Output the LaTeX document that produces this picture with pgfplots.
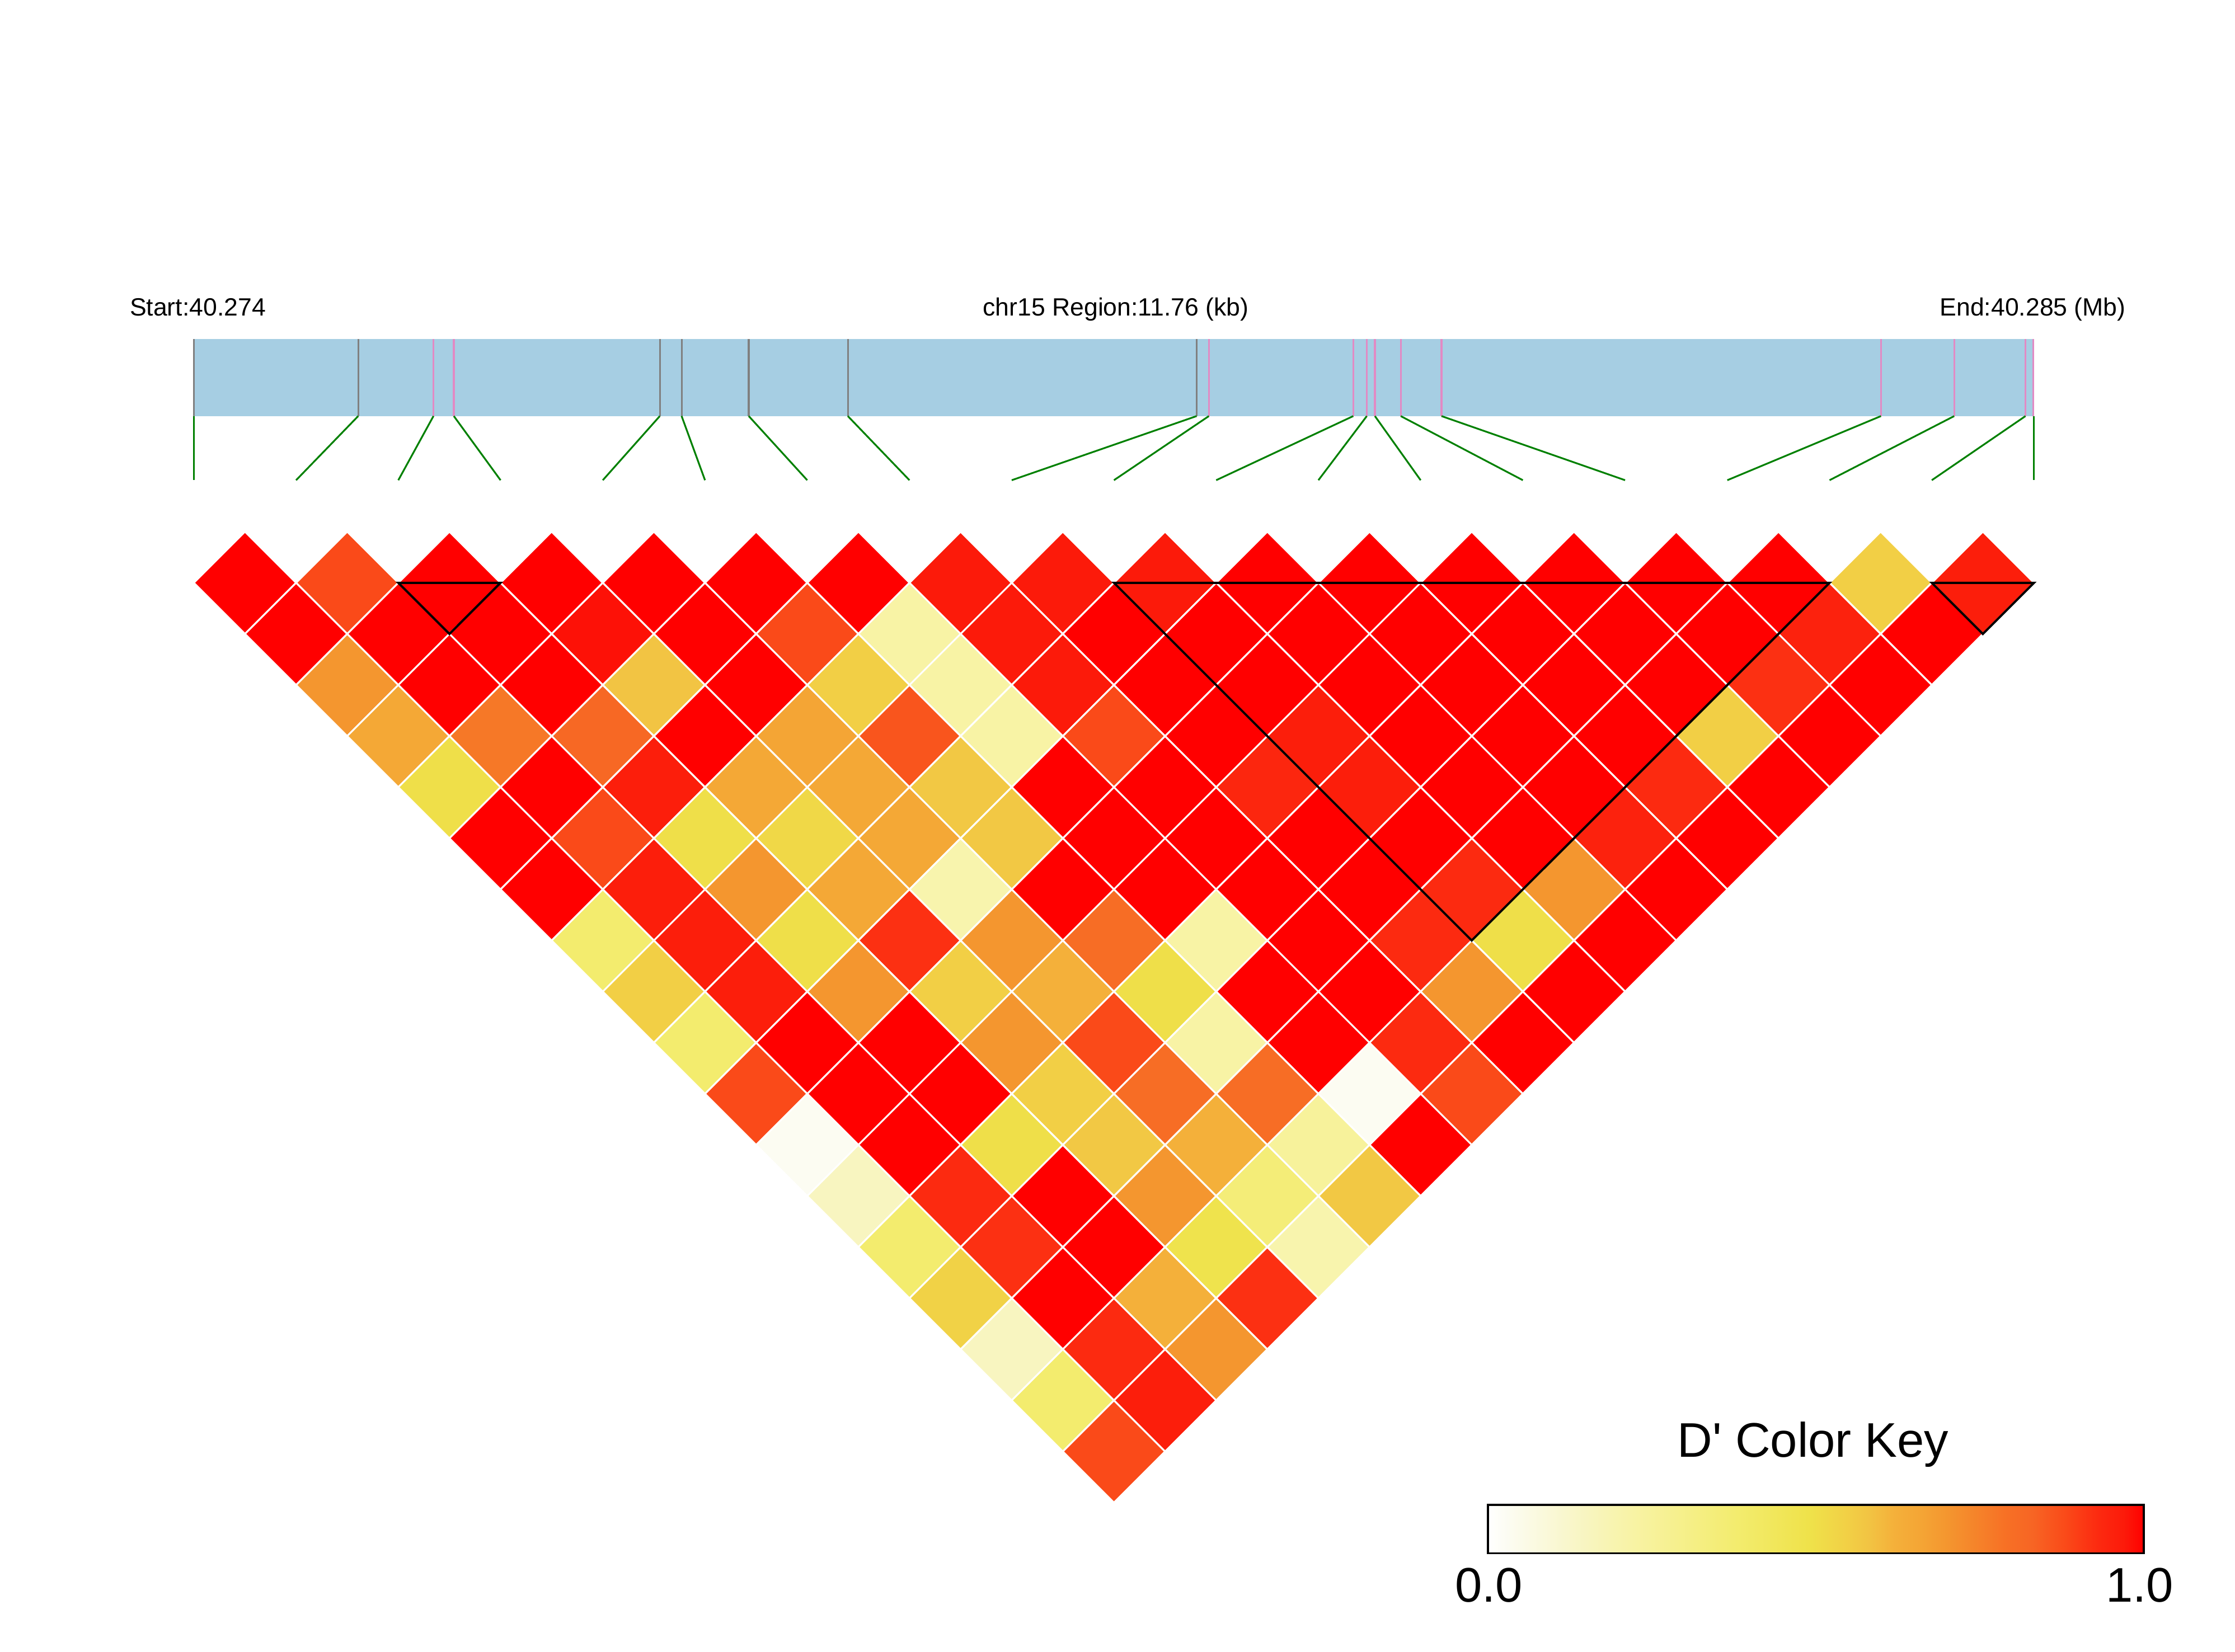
\documentclass[border=0pt]{standalone}
\usepackage{pgfplots}
\pgfplotsset{compat=1.18}
\usepackage{pgfplotstable}
\usepackage{fontspec}
\setmainfont{Liberation Sans}
\definecolor{barblue}{RGB}{166,206,227}
\definecolor{snpgray}{RGB}{128,128,128}
\definecolor{snppink}{RGB}{226,138,196}
\definecolor{lkgreen}{RGB}{0,128,0}

% D' values: pair (i,j) of SNPs 0..18
\pgfplotstableread{
i j v
0 1 1
1 2 0.88
2 3 1
3 4 1
4 5 1
5 6 1
6 7 1
7 8 0.97
8 9 0.97
9 10 0.97
10 11 1
11 12 1
12 13 1
13 14 1
14 15 1
15 16 1
16 17 0.55
17 18 0.96
0 2 1
1 3 1
2 4 1
3 5 0.98
4 6 1
5 7 0.88
6 8 0.22
7 9 0.97
8 10 1
9 11 1
10 12 1
11 13 1
12 14 1
13 15 1
14 16 1
15 17 0.95
16 18 1
0 3 0.7
1 4 1
2 5 1
3 6 0.58
4 7 1
5 8 0.55
6 9 0.22
7 10 0.97
8 11 1
9 12 1
10 13 1
11 14 1
12 15 1
13 16 1
14 17 0.92
15 18 1
0 4 0.65
1 5 0.77
2 6 0.82
3 7 1
4 8 0.66
5 9 0.86
6 10 0.22
7 11 0.88
8 12 1
9 13 0.96
10 14 1
11 15 1
12 16 1
13 17 0.55
14 18 1
0 5 0.5
1 6 1
2 7 0.96
3 8 0.65
4 9 0.65
5 10 0.57
6 11 1
7 12 1
8 13 0.94
9 14 0.96
10 15 1
11 16 1
12 17 0.93
13 18 1
0 6 1
1 7 0.88
2 8 0.5
3 9 0.52
4 10 0.65
5 11 0.57
6 12 1
7 13 1
8 14 1
9 15 1
10 16 1
11 17 0.95
12 18 1
0 7 1
1 8 0.96
2 9 0.7
3 10 0.65
4 11 0.2
5 12 1
6 13 1
7 14 1
8 15 1
9 16 0.93
10 17 0.7
11 18 1
0 8 0.38
1 9 0.96
2 10 0.5
3 11 0.92
4 12 0.7
5 13 0.8
6 14 0.22
7 15 1
8 16 0.93
9 17 0.5
10 18 1
0 9 0.55
1 10 0.96
2 11 0.7
3 12 0.55
4 13 0.62
5 14 0.5
6 15 1
7 16 1
8 17 0.7
9 18 1
0 10 0.38
1 11 1
2 12 1
3 13 0.7
4 14 0.88
5 15 0.22
6 16 1
7 17 0.93
8 18 1
0 11 0.88
1 12 1
2 13 1
3 14 0.55
4 15 0.8
5 16 0.8
6 17 0.03
7 18 0.88
0 12 0.03
1 13 1
2 14 0.5
3 15 0.57
4 16 0.62
5 17 0.25
6 18 1
0 13 0.15
1 14 0.93
2 15 1
3 16 0.7
4 17 0.35
5 18 0.57
0 14 0.38
1 15 0.92
2 16 1
3 17 0.48
4 18 0.2
0 15 0.54
1 16 1
2 17 0.62
3 18 0.92
0 16 0.15
1 17 0.93
2 18 0.7
0 17 0.38
1 18 0.96
0 18 0.88
}\cells

% SNP physical position (p) on the gene bar and evenly spaced position (e)
\pgfplotstableread{
p e
136 136
251.3 207.72
304.1 279.44
318.4 351.17
462.9 422.89
478.2 494.61
525.3 566.33
594.8 638.05
839.5 709.78
848.1 781.5
949.4 853.22
958.9 924.94
964.6 996.66
982.7 1068.39
1011.3 1140.11
1319.6 1211.83
1371 1283.55
1421 1355.27
1427 1427
}\snps

\pgfplotstableread{
p y
136 -292
251.3 -292
462.9 -292
478.2 -292
525.3 -292
594.8 -292
839.5 -292
}\graysnp

\pgfplotstableread{
p y
304.1 -292
318.4 -292
848.1 -292
949.4 -292
958.9 -292
964.6 -292
982.7 -292
1011.3 -292
1319.6 -292
1371 -292
1421 -292
1426.5 -292
}\pinksnp

\begin{document}
\begin{tikzpicture}
\begin{axis}[
  set layers,
  x=0.1mm, y=0.1mm,
  xmin=0, xmax=1568, ymin=-1159, ymax=0,
  scale only axis, hide axis, clip=false,
  colormap={ld}{
    rgb255(0pt)=(255,255,255)
    rgb255(3pt)=(252,252,242)
    rgb255(15pt)=(248,245,192)
    rgb255(22pt)=(248,243,165)
    rgb255(38pt)=(243,236,110)
    rgb255(49pt)=(239,226,74)
    rgb255(55pt)=(242,207,69)
    rgb255(58pt)=(242,196,67)
    rgb255(62pt)=(244,176,58)
    rgb255(66pt)=(244,165,53)
    rgb255(70pt)=(244,150,47)
    rgb255(79pt)=(247,112,37)
    rgb255(83pt)=(247,101,36)
    rgb255(88pt)=(250,74,25)
    rgb255(93pt)=(252,42,16)
    rgb255(97pt)=(252,26,10)
    rgb255(100pt)=(255,0,0)
  },
  point meta min=0, point meta max=1,
]
\path (axis cs:0,0) rectangle (axis cs:1568,-1159);

% gene bar
\addplot[draw=none, fill=barblue] coordinates {(136,-238) (1427,-238) (1427,-292) (136,-292)} -- cycle;
\addplot[snpgray, line width=0.35pt, quiver={u=0, v=54}] table[x=p, y=y] {\graysnp};
\addplot[snppink, line width=0.35pt, quiver={u=0, v=54}] table[x=p, y=y] {\pinksnp};
% connector lines
\addplot[lkgreen, line width=0.35pt, quiver={u=\thisrow{e}-\thisrow{p}, v=-45}] table[x=p, y expr=-292] {\snps};

% LD heatmap
\addplot[scatter, only marks, mark=square*,
  mark size=7.215pt,
  mark options={rotate=45, line width=0.35pt},
  scatter/use mapped color={draw=white, fill=mapped color},
  point meta=explicit]
  table[x expr={136+35.861*(\thisrow{i}+\thisrow{j})},
        y expr={-(409+35.861*(\thisrow{j}-\thisrow{i}-1))},
        meta=v] {\cells};

% LD blocks
\addplot[black, line width=0.45pt, on layer=axis foreground] coordinates {(279.44,-409) (351.17,-409) (315.3,-444.9)} -- cycle;
\addplot[black, line width=0.45pt, on layer=axis foreground] coordinates {(781.5,-409) (1283.55,-409) (1032.5,-660)} -- cycle;
\addplot[black, line width=0.45pt, on layer=axis foreground] coordinates {(1355.27,-409) (1427,-409) (1391.1,-444.9)} -- cycle;

% colour key
\addplot[patch, patch type=rectangle, shader=interp, point meta=explicit]
  coordinates {(1044,-1090) [0] (1504,-1090) [1] (1504,-1056) [1] (1044,-1056) [0]};
\addplot[black, line width=0.4pt, on layer=axis foreground] coordinates {(1044,-1090) (1504,-1090) (1504,-1056) (1044,-1056)} -- cycle;

% texts
\node[anchor=base west, inner sep=0pt, font=\fontsize{4.98}{6}\selectfont] at (axis cs:90.4,-221.6) {Start:40.274};
\node[anchor=base, inner sep=0pt, font=\fontsize{4.98}{6}\selectfont] at (axis cs:782.8,-221.6) {chr15 Region:11.76 (kb)};
\node[anchor=base east, inner sep=0pt, font=\fontsize{4.98}{6}\selectfont] at (axis cs:1492,-221.6) {End:40.285 (Mb)};
\node[anchor=base, inner sep=0pt, font=\fontsize{9.7}{11}\selectfont] at (axis cs:1272,-1022.4) {D\textquotesingle{} Color Key};
\node[anchor=base, inner sep=0pt, font=\fontsize{9.7}{11}\selectfont] at (axis cs:1044.5,-1124.2) {0.0};
\node[anchor=base, inner sep=0pt, font=\fontsize{9.7}{11}\selectfont] at (axis cs:1501,-1124.2) {1.0};
\end{axis}
\end{tikzpicture}
\end{document}
